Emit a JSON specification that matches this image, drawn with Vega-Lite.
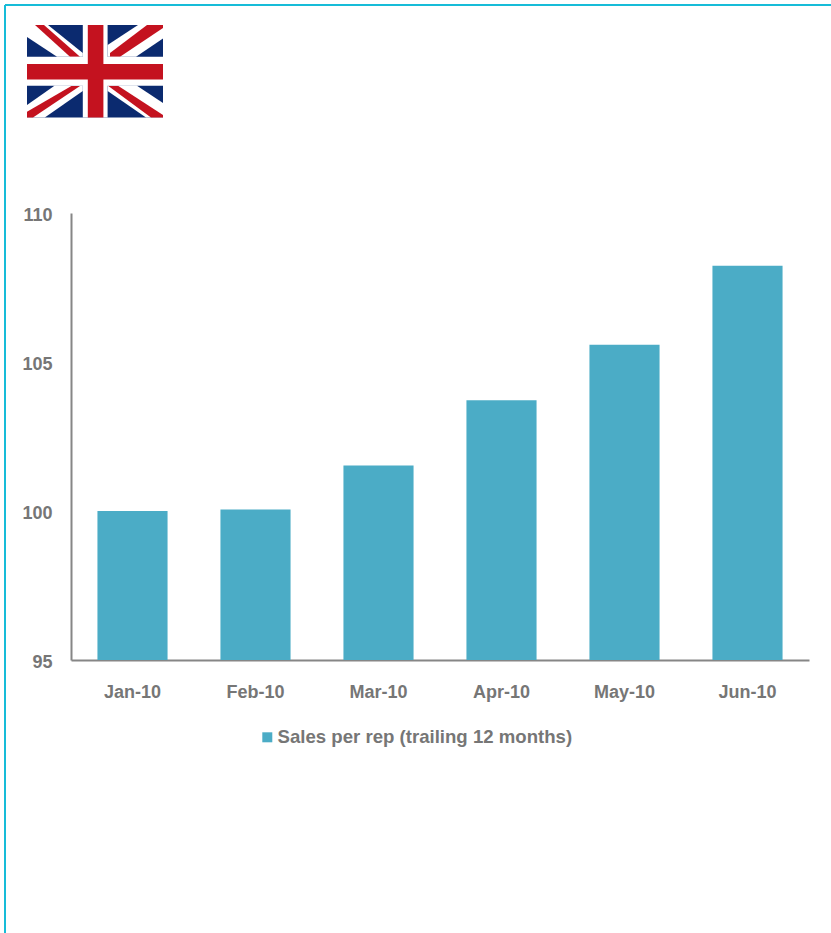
{
  "$schema": "https://vega.github.io/schema/vega-lite/v6.json",
  "width": 738,
  "height": 447,
  "autosize": "none",
  "padding": {"left": 71, "top": 213, "right": 22, "bottom": 273},
  "background": "#ffffff",
  "config": {"view": {"stroke": null}},
  "resolve": {"scale": {"x": "independent", "y": "independent", "color": "independent"}, "axis": {"x": "independent", "y": "independent"}},
  "layer": [
    {
      "data": {"values": [{"x": 0, "x2": 0, "y": 0, "y2": 1}, {"x": 0, "x2": 1, "y": 0, "y2": 0}]},
      "mark": {"type": "rule", "color": "#17bcd8", "strokeWidth": 2, "clip": false},
      "encoding": {
        "x": {"field": "x", "type": "quantitative", "axis": null, "scale": {"domain": [0, 1], "range": [-66, 760]}},
        "x2": {"field": "x2"},
        "y": {"field": "y", "type": "quantitative", "axis": null, "scale": {"domain": [0, 1], "range": [-208, 720]}},
        "y2": {"field": "y2"}
      }
    },
    {
      "data": {"values": [
        {"type": "Feature", "properties": {"part": "field"}, "geometry": {"type": "Polygon", "coordinates": [[[0, 0], [68, 0], [68, 46.3], [0, 46.3], [0, 0]]]}},
        {"type": "Feature", "properties": {"part": "fimbriation"}, "geometry": {"type": "Polygon", "coordinates": [[[0, 0], [10.5, 0], [27.9, 14], [27.9, 15.9], [15, 15.9], [0, 6], [0, 0]]]}},
        {"type": "Feature", "properties": {"part": "fimbriation"}, "geometry": {"type": "Polygon", "coordinates": [[[68, 0], [55.5, 0], [40.3, 10], [40.3, 15.9], [54.5, 15.9], [68, 6.7], [68, 0]]]}},
        {"type": "Feature", "properties": {"part": "fimbriation"}, "geometry": {"type": "Polygon", "coordinates": [[[0, 46.3], [8.9, 46.3], [27.9, 33], [27.9, 30.3], [13.9, 30.3], [0, 40], [0, 46.3]]]}},
        {"type": "Feature", "properties": {"part": "fimbriation"}, "geometry": {"type": "Polygon", "coordinates": [[[68, 46.3], [59.5, 46.3], [40.3, 33], [40.3, 30.3], [54.8, 30.3], [68, 39], [68, 46.3]]]}},
        {"type": "Feature", "properties": {"part": "saltire"}, "geometry": {"type": "Polygon", "coordinates": [[[4, 0], [8.5, 0], [26.5, 15.9], [21.5, 15.9], [4, 0]]]}},
        {"type": "Feature", "properties": {"part": "saltire"}, "geometry": {"type": "Polygon", "coordinates": [[[60, 0], [68, 0], [68, 1.5], [46.5, 15.9], [41.5, 15.9], [41.5, 14], [60, 0]]]}},
        {"type": "Feature", "properties": {"part": "saltire"}, "geometry": {"type": "Polygon", "coordinates": [[[0, 43.4], [22.2, 30.5], [26.5, 30.5], [3, 46.3], [0, 46.3], [0, 43.4]]]}},
        {"type": "Feature", "properties": {"part": "saltire"}, "geometry": {"type": "Polygon", "coordinates": [[[40.5, 30.4], [45.5, 30.4], [68, 45], [68, 46.3], [62, 46.3], [40.5, 30.4]]]}},
        {"type": "Feature", "properties": {"part": "fimbriation"}, "geometry": {"type": "Polygon", "coordinates": [[[27.9, 0], [40.3, 0], [40.3, 46.3], [27.9, 46.3], [27.9, 0]]]}},
        {"type": "Feature", "properties": {"part": "fimbriation"}, "geometry": {"type": "Polygon", "coordinates": [[[0, 15.9], [68, 15.9], [68, 30.4], [0, 30.4], [0, 15.9]]]}},
        {"type": "Feature", "properties": {"part": "saltire"}, "geometry": {"type": "Polygon", "coordinates": [[[30.4, 0], [38.2, 0], [38.2, 46.3], [30.4, 46.3], [30.4, 0]]]}},
        {"type": "Feature", "properties": {"part": "saltire"}, "geometry": {"type": "Polygon", "coordinates": [[[0, 19.5], [68, 19.5], [68, 27.2], [0, 27.2], [0, 19.5]]]}}
      ]},
      "projection": {"type": "identity", "scale": 2, "translate": [-44, -188]},
      "mark": {"type": "geoshape", "strokeWidth": 0, "clip": false},
      "encoding": {
        "color": {
          "field": "properties.part", "type": "nominal", "legend": null,
          "scale": {"domain": ["field", "fimbriation", "saltire"], "range": ["#0b2a6f", "#ffffff", "#c4121f"]}
        }
      }
    },
    {
      "data": {"values": [
        {"month": "Jan-10", "value": 100.0, "series": "Sales per rep (trailing 12 months)"},
        {"month": "Feb-10", "value": 100.05, "series": "Sales per rep (trailing 12 months)"},
        {"month": "Mar-10", "value": 101.53, "series": "Sales per rep (trailing 12 months)"},
        {"month": "Apr-10", "value": 103.72, "series": "Sales per rep (trailing 12 months)"},
        {"month": "May-10", "value": 105.58, "series": "Sales per rep (trailing 12 months)"},
        {"month": "Jun-10", "value": 108.23, "series": "Sales per rep (trailing 12 months)"}
      ]},
      "mark": {"type": "bar", "clip": true},
      "encoding": {
        "x": {
          "field": "month", "type": "nominal", "sort": null, "title": null,
          "scale": {"paddingInner": 0.43, "paddingOuter": 0.215},
          "axis": {"labelAngle": 0, "labelFont": "Liberation Sans", "labelFontWeight": "bold", "labelFontSize": 18, "labelColor": "#767676", "labelPadding": 23, "ticks": false, "domainColor": "#868686", "domainWidth": 2, "grid": false}
        },
        "y": {
          "field": "value", "type": "quantitative", "title": null,
          "scale": {"domain": [95, 110], "nice": false, "zero": false},
          "axis": {"values": [95, 100, 105, 110], "labelFont": "Liberation Sans", "labelFontWeight": "bold", "labelFontSize": 18, "labelColor": "#767676", "labelPadding": 19, "ticks": false, "domainColor": "#868686", "domainWidth": 2, "grid": false, "labelOffset": 2.5}
        },
        "color": {
          "field": "series", "type": "nominal", "title": null,
          "scale": {"range": ["#4bacc6"]},
          "legend": {"orient": "none", "legendX": 187, "legendY": 515, "symbolType": "square", "symbolSize": 100, "symbolStrokeWidth": 0, "labelFont": "Liberation Sans", "labelFontWeight": "bold", "labelFontSize": 18.6, "labelColor": "#767676", "labelLimit": 400, "labelOffset": 1, "padding": 0}
        }
      }
    }
  ]
}
